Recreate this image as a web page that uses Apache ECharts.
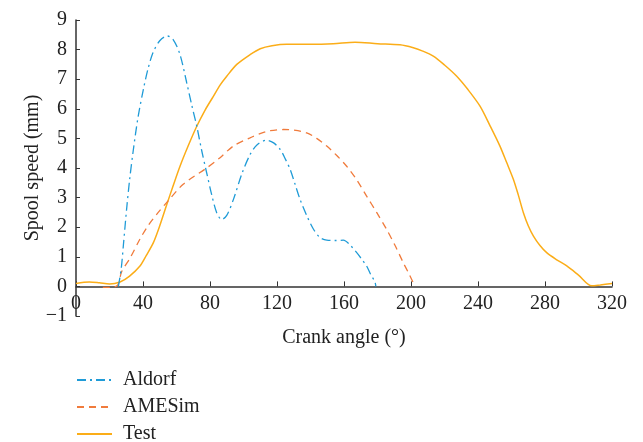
<!DOCTYPE html>
<html><head><meta charset="utf-8">
<script src="https://cdn.jsdelivr.net/npm/echarts@6/dist/echarts.min.js"></script>
<style>html,body{margin:0;padding:0;background:#fff}#c{width:643px;height:442px}</style>
</head><body><div id="c"></div>
<script>
const aldorf = [[25.3,0],[27,0.6],[28.3,1.4],[30.2,2.6],[32,3.6],[34.2,4.6],[37,5.7],[40.2,6.65],[43,7.35],[46,7.9],[50,8.3],[54.5,8.46],[58,8.34],[62,7.85],[66.1,6.88],[69,6.15],[72.1,5.41],[75,4.6],[78,3.84],[81,3.1],[84,2.49],[87,2.26],[90,2.4],[94,2.94],[99,3.8],[103.9,4.45],[108,4.78],[113.8,4.94],[118,4.85],[122,4.62],[125,4.3],[127.8,3.96],[130.8,3.45],[133.7,2.95],[137.7,2.4],[141.7,1.94],[145.7,1.65],[149.7,1.56],[155,1.55],[159.6,1.56],[163.6,1.4],[167.6,1.14],[170.6,0.92],[173.5,0.69],[176,0.4],[178.5,0.15],[179,0]];
const amesim = [[16,-0.03],[22,-0.03],[25,0.05],[27.3,0.5],[32.2,0.95],[38.2,1.6],[43,2.05],[49.1,2.5],[54.1,2.83],[64,3.45],[78,4.0],[86,4.35],[93.9,4.74],[103.9,5.02],[109.9,5.16],[116,5.26],[123.8,5.3],[130,5.28],[137.7,5.19],[143.7,5.0],[149.7,4.74],[155.7,4.42],[161.6,4.06],[167.6,3.6],[173.5,3.05],[179.5,2.5],[185.5,1.92],[190.5,1.38],[195.4,0.8],[199,0.4],[202.4,0.0]];
const test = [[0,0.1],[8,0.15],[14,0.12],[20,0.08],[26.3,0.15],[32,0.35],[38.2,0.69],[42,1.05],[46.2,1.48],[50,2.05],[54.1,2.75],[58,3.4],[62.1,4.06],[67,4.75],[72.1,5.41],[77,5.95],[82,6.42],[86,6.8],[90,7.1],[96,7.5],[103.9,7.83],[110,8.03],[117,8.13],[125.8,8.18],[140,8.18],[153.6,8.2],[166.6,8.25],[180,8.2],[193.4,8.16],[201.4,8.06],[207,7.95],[213.3,7.78],[220,7.48],[227.3,7.1],[234,6.65],[241.2,6.09],[247,5.45],[253.1,4.74],[257,4.2],[261.1,3.62],[264,3.1],[267.1,2.49],[270,2.05],[273.1,1.70],[277,1.38],[281,1.14],[287,0.9],[293,0.69],[300,0.38],[307.9,0.02],[313,0.05],[320,0.1]];
const names = ['Aldorf','AMESim','Test'];
const colors = ['#1f9bd7','#f07b3c','#fbad18'];
const xTicks = {min:0,max:320,interval:40};
const yTicks = {min:-1,max:9,interval:1};

const font = 'Liberation Serif';
const fs = 20;
const chart = echarts.init(document.getElementById('c'));
chart.setOption({
  animation:false,
  textStyle:{fontFamily:font},
  grid:{left:76,right:31,top:20,bottom:126,containLabel:false},
  legend:{orient:'vertical',left:76,top:370,height:100,padding:0,itemWidth:35,itemHeight:12,itemGap:7,
    itemStyle:{opacity:0},
    textStyle:{fontFamily:font,fontSize:fs,lineHeight:19,color:'#222',padding:[0,0,0,6]},data:names},
  xAxis:{type:'value',min:xTicks.min,max:xTicks.max,interval:xTicks.interval,
    name:'Crank angle (°)',nameLocation:'middle',nameGap:12,nameMoveOverlap:false,
    nameTextStyle:{fontFamily:font,fontSize:fs,color:'#222'},
    axisLine:{onZero:true,lineStyle:{color:'#333',width:1.5}},
    axisTick:{inside:true,length:5,lineStyle:{color:'#333'}},
    axisLabel:{fontFamily:font,fontSize:fs,color:'#222',margin:-22},
    splitLine:{show:false}},
  yAxis:{type:'value',min:yTicks.min,max:yTicks.max,interval:yTicks.interval,
    name:'Spool speed (mm)',nameLocation:'middle',nameGap:33,nameMoveOverlap:false,
    nameTextStyle:{fontFamily:font,fontSize:fs,color:'#222'},
    axisLine:{show:true,onZero:false,lineStyle:{color:'#333',width:1.5}},
    axisTick:{show:true,inside:true,length:4,lineStyle:{color:'#333'}},
    axisLabel:{fontFamily:font,fontSize:fs,color:'#222',margin:9,
      formatter:v=>String(v).replace('-','\u2212')},
    splitLine:{show:false}},
  series:[
    {name:names[0],type:'line',data:aldorf,smooth:0.3,symbol:'none',z:3,
      lineStyle:{color:colors[0],width:1.3,type:[9,4,2,4]},itemStyle:{color:colors[0]}},
    {name:names[1],type:'line',data:amesim,smooth:0.3,symbol:'none',z:2,
      lineStyle:{color:colors[1],width:1.3,type:[7,5]},itemStyle:{color:colors[1]}},
    {name:names[2],type:'line',data:test,smooth:0.3,symbol:'none',z:1,
      lineStyle:{color:colors[2],width:1.5,type:'solid'},itemStyle:{color:colors[2]}}
  ]
});
</script></body></html>
